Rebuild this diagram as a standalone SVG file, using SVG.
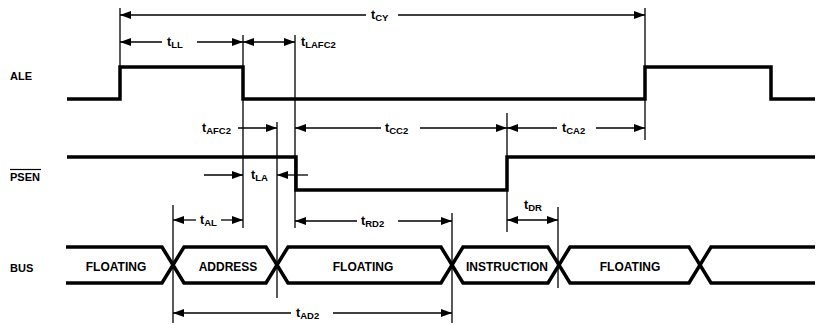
<svg xmlns="http://www.w3.org/2000/svg" width="818" height="325" viewBox="0 0 818 325">
<defs>
<marker id="ah" markerWidth="11" markerHeight="8" refX="11" refY="4" orient="auto-start-reverse" markerUnits="userSpaceOnUse">
<path d="M0,0 L11,4 L0,8 z" fill="#000"/>
</marker>
<style>
.sig{fill:none;stroke:#000;stroke-width:3.5;stroke-linejoin:miter}
.thin{fill:none;stroke:#000;stroke-width:1.3}
.arr{fill:none;stroke:#000;stroke-width:1.3;marker-end:url(#ah)}
.both{fill:none;stroke:#000;stroke-width:1.3;marker-start:url(#ah);marker-end:url(#ah)}
.lbl{font-family:"Liberation Sans",Arial,sans-serif;font-weight:bold;font-size:11px;fill:#000}
.t{font-family:"Liberation Sans",Arial,sans-serif;font-weight:bold;font-size:12.5px;fill:#000}
.s{font-size:9.5px}
.bus{font-family:"Liberation Sans",Arial,sans-serif;font-weight:bold;font-size:12px;fill:#000;text-anchor:middle}
</style>
</defs>
<rect width="818" height="325" fill="#fff"/>

<g id="ALE">
<text class="lbl" x="10" y="80">ALE</text>
<path class="sig" d="M67,99 H120 V67 H243 V99 H645 V67 H771 V99 H815"/>
</g>
<g id="PSEN">
<text class="lbl" x="10" y="181">PSEN</text>
<line x1="10" y1="169.5" x2="41" y2="169.5" stroke="#000" stroke-width="1.2"/>
<path class="sig" d="M67,157 H296 V190 H507 V157 H815"/>
</g>
<g id="BUS">
<text class="lbl" x="10" y="272">BUS</text>
<path class="sig" d="M66,247 H162 L184,283 H266 L288,247 H441 L463,283 H548 L570,247 H689 L711,283 H815"/>
<path class="sig" d="M66,283 H162 L184,247 H266 L288,283 H441 L463,247 H548 L570,283 H689 L711,247 H815"/>
<text class="bus" x="116" y="271">FLOATING</text>
<text class="bus" x="228" y="271">ADDRESS</text>
<text class="bus" x="363" y="271">FLOATING</text>
<text class="bus" x="507" y="271">INSTRUCTION</text>
<text class="bus" x="630" y="271">FLOATING</text>
</g>

<g id="connectors">
<line class="thin" x1="120" y1="8" x2="120" y2="68"/>
<line class="thin" x1="243" y1="35" x2="243" y2="228"/>
<line class="thin" x1="295" y1="35" x2="295" y2="228"/>
<line class="thin" x1="277" y1="122" x2="277" y2="298"/>
<line class="thin" x1="507" y1="113" x2="507" y2="232"/>
<line class="thin" x1="558" y1="207" x2="558" y2="288"/>
<line class="thin" x1="645" y1="8" x2="645" y2="140"/>
<line class="thin" x1="173" y1="205" x2="173" y2="323"/>
<line class="thin" x1="452" y1="213" x2="452" y2="323"/>

<line class="arr" x1="366" y1="15" x2="120" y2="15"/>
<line class="arr" x1="398" y1="15" x2="645" y2="15"/>
<line class="arr" x1="162" y1="42" x2="120" y2="42"/>
<line class="arr" x1="197" y1="42" x2="243" y2="42"/>
<line class="both" x1="243" y1="42" x2="295" y2="42"/>
<line class="arr" x1="238" y1="128" x2="277" y2="128"/>
<line class="arr" x1="381" y1="128" x2="295" y2="128"/>
<line class="arr" x1="420" y1="128" x2="507" y2="128"/>
<line class="arr" x1="557" y1="128" x2="507" y2="128"/>
<line class="arr" x1="596" y1="128" x2="645" y2="128"/>
<line class="arr" x1="204" y1="175" x2="243" y2="175"/>
<line class="arr" x1="308" y1="175" x2="277" y2="175"/>
<line class="arr" x1="196" y1="220" x2="173" y2="220"/>
<line class="arr" x1="221" y1="220" x2="243" y2="220"/>
<line class="arr" x1="357" y1="221" x2="295" y2="221"/>
<line class="arr" x1="398" y1="221" x2="452" y2="221"/>
<line class="both" x1="507" y1="220" x2="558" y2="220"/>
<line class="arr" x1="291" y1="313" x2="173" y2="313"/>
<line class="arr" x1="333" y1="313" x2="452" y2="313"/>
</g>

<g id="labels">
<text class="t" x="371" y="19">t<tspan class="s" dy="2">CY</tspan></text>
<text class="t" x="167" y="46">t<tspan class="s" dy="2">LL</tspan></text>
<text class="t" x="301" y="46">t<tspan class="s" dy="2">LAFC2</tspan></text>
<text class="t" x="202" y="132">t<tspan class="s" dy="2">AFC2</tspan></text>
<text class="t" x="385" y="132">t<tspan class="s" dy="2">CC2</tspan></text>
<text class="t" x="562" y="132">t<tspan class="s" dy="2">CA2</tspan></text>
<text class="t" x="251" y="179">t<tspan class="s" dy="2">LA</tspan></text>
<text class="t" x="200" y="224">t<tspan class="s" dy="2">AL</tspan></text>
<text class="t" x="361" y="225">t<tspan class="s" dy="2">RD2</tspan></text>
<text class="t" x="524" y="209">t<tspan class="s" dy="2">DR</tspan></text>
<text class="t" x="296" y="317">t<tspan class="s" dy="2">AD2</tspan></text>
</g>
</svg>
